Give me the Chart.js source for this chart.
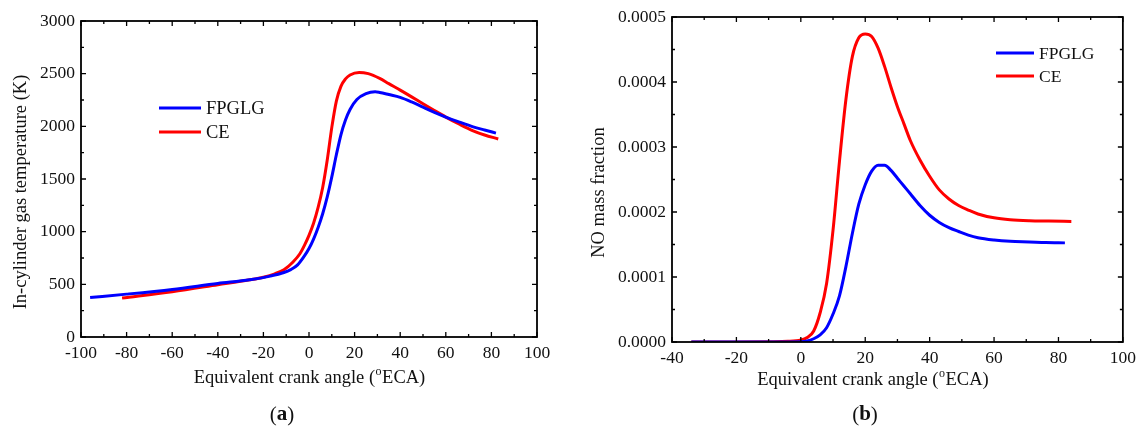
<!DOCTYPE html>
<html>
<head>
<meta charset="utf-8">
<script src="https://cdn.jsdelivr.net/npm/chart.js@4.4.1/dist/chart.umd.min.js"></script>
<style>
html, body { margin: 0; padding: 0; background: #fff; }
#wrap { position: relative; width: 1142px; height: 432px; }
canvas { position: absolute; top: 0; }
</style>
</head>
<body>
<div id="wrap">
	<canvas id="tempChart" width="570" height="432" style="left:0"></canvas>
	<canvas id="noChart" width="572" height="432" style="left:570px"></canvas>
</div>
<script>
// (a) in-cylinder gas temperature, K
var tempAngleFPGLG = [-96, -80, -60, -40, -26, -17, -11, -8, -5, -2, 0, 2, 4, 6, 8, 10, 12, 14, 16, 18, 21, 25, 29, 31, 35, 40, 45, 50, 55, 60, 66, 72, 77, 82];
var tempFPGLG = [375, 407, 452, 508, 543, 578, 612, 640, 685, 770, 840, 930, 1040, 1170, 1330, 1520, 1730, 1920, 2060, 2160, 2255, 2310, 2328, 2322, 2302, 2275, 2232, 2182, 2133, 2088, 2040, 1995, 1965, 1936];
var tempAngleCE = [-82, -60, -40, -26, -20, -15, -11, -7, -4, -2, 0, 2, 4, 6, 8, 10, 12, 14, 16, 18, 22, 26, 31, 35, 40, 45, 50, 55, 60, 66, 72, 77, 83];
var tempCE = [370, 430, 496, 543, 568, 600, 638, 712, 790, 870, 965, 1080, 1230, 1420, 1680, 1990, 2240, 2380, 2450, 2488, 2512, 2500, 2455, 2405, 2344, 2280, 2214, 2150, 2088, 2020, 1958, 1918, 1880];

// (b) NO mass fraction
var noAngleFPGLG = [-34, -10, 0, 2, 4, 6, 8, 10, 12, 14, 16, 18, 20, 22, 24, 26, 28, 30, 32, 34, 37, 40, 43, 46, 49, 52, 55, 60, 65, 71, 76, 82];
var noFPGLG = [0, 0.0000001, 0.0000005, 0.0000015, 0.000005, 0.000011, 0.000022, 0.000043, 0.000071, 0.000116, 0.000167, 0.000212, 0.000242, 0.000263, 0.000272, 0.000272, 0.000264, 0.000252, 0.000240, 0.000228, 0.000210, 0.000195, 0.000184, 0.000176, 0.000170, 0.0001645, 0.0001605, 0.000157, 0.000155, 0.000154, 0.000153, 0.0001525];
var noAngleCE = [-34, -20, -10, -4, 0, 2, 4, 6, 8, 10, 12, 14, 16, 18, 20, 22, 24, 26, 28, 30, 32, 34, 37, 40, 43, 46, 49, 52, 55, 60, 65, 71, 77, 84];
var noCE = [0, 0.0000001, 0.0000005, 0.000001, 0.000003, 0.000007, 0.000017, 0.000045, 0.00009, 0.000172, 0.000278, 0.000373, 0.000439, 0.000468, 0.000474, 0.000470, 0.000452, 0.000424, 0.000392, 0.000362, 0.000336, 0.000310, 0.000280, 0.000255, 0.000234, 0.000220, 0.000210, 0.000203, 0.000197, 0.000191, 0.000188, 0.0001865, 0.000186, 0.0001855];

var seriesNames = ["FPGLG", "CE"];
var seriesColors = ["#0000ff", "#ff0000"];

var serif = "'Liberation Serif', 'Times New Roman', serif";

function points(xs, ys) {
	return xs.map(function (x, i) { return { x: x, y: ys[i] }; });
}

// frame with inward ticks, axis titles, legend and panel letter
var framePlugin = {
	id: 'frame',
	afterDraw: function (chart, args, opts) {
		var ctx = chart.ctx, a = chart.chartArea;
		var xs = chart.scales.x, ys = chart.scales.y;
		ctx.save();
		ctx.strokeStyle = '#000';
		ctx.lineWidth = 1.8;
		ctx.strokeRect(a.left, a.top, a.right - a.left, a.bottom - a.top);

		function marks(scale) {
			var out = [], t = scale.ticks;
			for (var i = 0; i < t.length; i++) {
				out.push([scale.getPixelForValue(t[i].value), 5]);
				if (i < t.length - 1) out.push([scale.getPixelForValue((t[i].value + t[i + 1].value) / 2), 3]);
			}
			return out;
		}
		ctx.lineWidth = 1.3;
		ctx.beginPath();
		marks(xs).forEach(function (m) {
			ctx.moveTo(m[0], a.bottom); ctx.lineTo(m[0], a.bottom - m[1]);
			ctx.moveTo(m[0], a.top); ctx.lineTo(m[0], a.top + m[1]);
		});
		marks(ys).forEach(function (m) {
			ctx.moveTo(a.left, m[0]); ctx.lineTo(a.left + m[1], m[0]);
			ctx.moveTo(a.right, m[0]); ctx.lineTo(a.right - m[1], m[0]);
		});
		ctx.stroke();

		ctx.fillStyle = '#111';
		ctx.textBaseline = 'middle';
		ctx.textAlign = 'left';

		// x title with a raised small "o"
		var big = '18.5px ' + serif, small = '12px ' + serif;
		var p = opts.xTitle;
		ctx.font = big;
		var w1 = ctx.measureText(p[0]).width, w3 = ctx.measureText(p[2]).width;
		ctx.font = small;
		var w2 = ctx.measureText(p[1]).width;
		var x0 = (a.left + a.right) / 2 + opts.xTitleShift - (w1 + w2 + w3) / 2;
		var ty = opts.xTitleY;
		ctx.font = big; ctx.fillText(p[0], x0, ty);
		ctx.font = small; ctx.fillText(p[1], x0 + w1 + 0.5, ty - 6);
		ctx.font = big; ctx.fillText(p[2], x0 + w1 + w2 + 1, ty);

		// y title
		ctx.save();
		ctx.translate(opts.yTitleX, (a.top + a.bottom) / 2 + opts.yTitleShift);
		ctx.rotate(-Math.PI / 2);
		ctx.textAlign = 'center';
		ctx.font = big;
		ctx.fillText(opts.yTitle, 0, 0);
		ctx.restore();

		// legend
		var lg = opts.legend;
		ctx.font = lg.size + 'px ' + serif;
		chart.data.datasets.forEach(function (ds, i) {
			var y = lg.y + i * lg.gap;
			ctx.strokeStyle = ds.borderColor;
			ctx.lineWidth = 3;
			ctx.beginPath();
			ctx.moveTo(lg.x, y); ctx.lineTo(lg.x + lg.len, y);
			ctx.stroke();
			ctx.fillText(ds.label, lg.x + lg.len + 5, y + 1);
		});

		// panel letter, e.g. (a)
		var pf = '21px ' + serif, bf = 'bold 21px ' + serif;
		ctx.font = pf;
		var wp1 = ctx.measureText('(').width, wp3 = ctx.measureText(')').width;
		ctx.font = bf;
		var wp2 = ctx.measureText(opts.panel).width;
		var px = opts.panelX - (wp1 + wp2 + wp3) / 2, py = 415;
		ctx.font = pf; ctx.fillText('(', px, py);
		ctx.font = bf; ctx.fillText(opts.panel, px + wp1, py);
		ctx.font = pf; ctx.fillText(')', px + wp1 + wp2, py);
		ctx.restore();
	}
};

function makeChart(id, cfg) {
	return new Chart(document.getElementById(id).getContext('2d'), {
		type: 'line',
		plugins: [framePlugin],
		data: {
			datasets: cfg.series.map(function (s, i) {
				return {
					label: seriesNames[i],
					data: s,
					borderColor: seriesColors[i],
					backgroundColor: seriesColors[i],
					borderWidth: 3,
					pointRadius: 0,
					cubicInterpolationMode: 'monotone',
					fill: false
				};
			})
		},
		options: {
			responsive: false,
			animation: false,
			events: [],
			layout: { padding: { top: cfg.padTop, right: cfg.padRight, left: 0, bottom: 0 } },
			scales: {
				x: {
					type: 'linear',
					min: cfg.xMin, max: cfg.xMax,
					afterFit: function (s) { s.height = cfg.xHeight; },
					grid: { display: false, drawTicks: false },
					border: { display: false },
					ticks: { stepSize: 20, autoSkip: false, maxRotation: 0, padding: 6, color: '#111', font: { family: serif, size: 17.5 } }
				},
				y: {
					min: 0, max: cfg.yMax,
					afterFit: function (s) { s.width = cfg.yWidth; },
					grid: { display: false, drawTicks: false },
					border: { display: false },
					ticks: { stepSize: cfg.yStep, autoSkip: false, padding: 6, color: '#111', font: { family: serif, size: 17.5 }, callback: cfg.yFormat }
				}
			},
			plugins: {
				legend: { display: false },
				tooltip: { enabled: false },
				frame: cfg.frame
			}
		}
	});
}

makeChart('tempChart', {
	series: [points(tempAngleFPGLG, tempFPGLG), points(tempAngleCE, tempCE)],
	xMin: -100, xMax: 100, yMax: 3000, yStep: 500,
	yFormat: function (v) { return v; },
	padTop: 21, padRight: 33, xHeight: 95, yWidth: 81,
	frame: {
		xTitle: ['Equivalent crank angle (', 'o', 'ECA)'], xTitleShift: 0, xTitleY: 378,
		yTitle: 'In-cylinder gas temperature (K)', yTitleX: 21, yTitleShift: 13,
		legend: { x: 159, y: 108, gap: 24, len: 42, size: 18.5 },
		panel: 'a', panelX: 282
	}
});

makeChart('noChart', {
	series: [points(noAngleFPGLG, noFPGLG), points(noAngleCE, noCE)],
	xMin: -40, xMax: 100, yMax: 0.0005, yStep: 0.0001,
	yFormat: function (v) { return v.toFixed(4); },
	padTop: 17, padRight: 16, xHeight: 90, yWidth: 102,
	frame: {
		xTitle: ['Equivalent crank angle (', 'o', 'ECA)'], xTitleShift: -25, xTitleY: 380,
		yTitle: 'NO mass fraction', yTitleX: 29, yTitleShift: 13,
		legend: { x: 426, y: 53, gap: 23, len: 38, size: 17.5 },
		panel: 'b', panelX: 295
	}
});
</script>
</body>
</html>
